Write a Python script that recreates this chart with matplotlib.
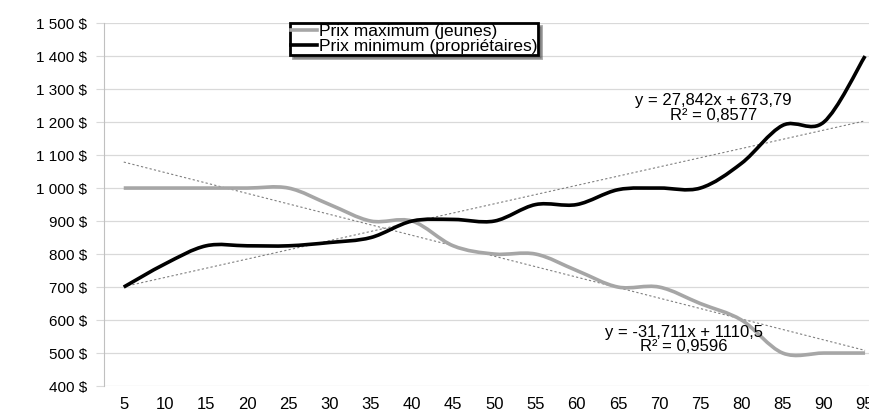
import numpy as np
import matplotlib
matplotlib.use('Agg')
import matplotlib.pyplot as plt
from matplotlib.path import Path
from matplotlib.patches import PathPatch
from matplotlib.lines import Line2D
from matplotlib.ticker import FuncFormatter

plt.rcParams['font.family'] = ['Liberation Sans', 'DejaVu Sans']

ages = [5, 10, 15, 20, 25, 30, 35, 40, 45, 50, 55, 60, 65, 70, 75, 80, 85, 90, 95]
prix_max = [1000, 1000, 1000, 1000, 1000, 950, 900, 900, 825, 800, 800, 750, 700, 700, 650, 600, 500, 500, 500]
prix_min = [700, 770, 825, 825, 825, 835, 850, 900, 905, 900, 950, 950, 995, 1000, 1000, 1075, 1190, 1200, 1400]

label_max = 'Prix maximum (jeunes)'
label_min = 'Prix minimum (propriétaires)'
eq_min = 'y = 27,842x + 673,79\nR² = 0,8577'
eq_max = 'y = -31,711x + 1110,5\nR² = 0,9596'

col_max = '#a6a6a6'
col_min = '#000000'


def smooth_path(x, y):
    # Bezier path through the points (same idea as Excel's smoothed line)
    x = np.asarray(x, float)
    y = np.asarray(y, float)
    verts = [(x[0], y[0])]
    codes = [Path.MOVETO]
    n = len(x)
    for i in range(n - 1):
        p0 = np.array([x[max(i - 1, 0)], y[max(i - 1, 0)]])
        p1 = np.array([x[i], y[i]])
        p2 = np.array([x[i + 1], y[i + 1]])
        p3 = np.array([x[min(i + 2, n - 1)], y[min(i + 2, n - 1)]])
        c1 = p1 + (p2 - p0) / 6
        c2 = p2 - (p3 - p1) / 6
        verts += [tuple(c1), tuple(c2), tuple(p2)]
        codes += [Path.CURVE4] * 3
    return Path(verts, codes)


fig = plt.figure(figsize=(8.7, 4.12), dpi=100)
ax = fig.add_axes([0.1195, 0.063, 0.8805, 0.881])

ax.set_xlim(2.6, 95.6)
ax.set_ylim(400, 1500)
ax.set_xticks(ages)
ax.set_yticks(range(400, 1501, 100))
ax.yaxis.set_major_formatter(FuncFormatter(
    lambda v, p: ('{:,.0f}'.format(v)).replace(',', ' ') + ' $'))
ax.grid(axis='y', color='#d9d9d9', linewidth=0.9)
ax.set_axisbelow(True)
for s in ['top', 'right', 'bottom']:
    ax.spines[s].set_visible(False)
ax.spines['left'].set_color('#c0c0c0')
ax.tick_params(axis='y', length=6, color='#d9d9d9', labelsize=11, pad=6)
ax.tick_params(axis='x', length=0, labelsize=12, pad=8)

# trend lines (least squares on series index 1..n)
idx = np.arange(1, len(ages) + 1)
for vals in (prix_max, prix_min):
    a, b = np.polyfit(idx, vals, 1)
    ax.plot([ages[0], ages[-1]], [a * idx[0] + b, a * idx[-1] + b],
            linestyle=(0, (2, 2)), color='#808080', linewidth=0.8, zorder=2)

ax.add_patch(PathPatch(smooth_path(ages, prix_max), facecolor='none',
                       edgecolor=col_max, linewidth=2.6, zorder=3))
ax.add_patch(PathPatch(smooth_path(ages, prix_min), facecolor='none',
                       edgecolor=col_min, linewidth=2.6, zorder=4))

ax.text(76.6, 1243, eq_min, ha='center', va='center', fontsize=12, linespacing=0.95)
ax.text(73, 541, eq_max, ha='center', va='center', fontsize=12, linespacing=0.95)

handles = [Line2D([], [], color=col_max, linewidth=2.6),
           Line2D([], [], color=col_min, linewidth=2.6)]
leg = ax.legend(handles, [label_max, label_min], loc='upper left',
                bbox_to_anchor=(0.243, 1.0), fontsize=12.5, frameon=True,
                fancybox=False, shadow=True, handlelength=1.5, handletextpad=0.1,
                borderpad=0.05, labelspacing=0.0, borderaxespad=0.0)
leg.get_frame().set_edgecolor('black')
leg.get_frame().set_linewidth(2)

fig.savefig('out.png', dpi=100)
